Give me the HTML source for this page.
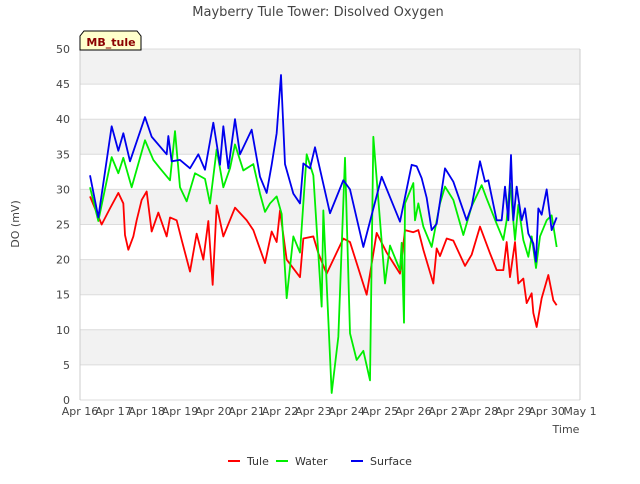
<!DOCTYPE html>
<html><head><meta charset="utf-8"><style>
body{margin:0;background:#fff;font-family:"DejaVu Sans","Liberation Sans",sans-serif;}
svg text{font-family:"DejaVu Sans","Liberation Sans",sans-serif;}
</style></head><body>
<svg id="chart" width="640" height="480">
<text x="318" y="16" text-anchor="middle" font-size="13" fill="#444">Mayberry Tule Tower: Disolved Oxygen</text>
<g id="bands"></g>
<g id="grid"></g>
<g id="axes"></g>
<g id="series"></g>
<g>
<path d="M80,50 L80,36 L84,31 L137,31 L141,36 L141,50 Z" fill="#ffffcc" stroke="#000" stroke-width="1"/>
<text x="111" y="46" text-anchor="middle" font-size="11" font-weight="bold" fill="#8b0000">MB_tule</text>
</g>
<text x="19" y="224" transform="rotate(-90 19 224)" text-anchor="middle" font-size="11" fill="#444">DO (mV)</text>
<text x="566" y="433" text-anchor="middle" font-size="11" fill="#444">Time</text>
<g id="legend"></g>
</svg>
<script>
const xTickLabels=["Apr 16","Apr 17","Apr 18","Apr 19","Apr 20","Apr 21","Apr 22","Apr 23","Apr 24","Apr 25","Apr 26","Apr 27","Apr 28","Apr 29","Apr 30","May 1"];
const yTicks=[0,5,10,15,20,25,30,35,40,45,50];
const seriesNames=["Tule","Water","Surface"];
const seriesColors=["#ff0000","#00ee00","#0000ee"];
const tuleT=[0.3,0.65,0.9,1.15,1.3,1.35,1.45,1.6,1.7,1.85,2.0,2.15,2.35,2.6,2.7,2.9,3.05,3.3,3.5,3.7,3.85,3.98,4.1,4.3,4.65,5.0,5.2,5.55,5.75,5.9,6.0,6.2,6.6,6.7,7.0,7.15,7.4,7.9,8.1,8.6,8.9,9.2,9.6,9.75,10.0,10.15,10.3,10.45,10.6,10.7,10.8,11.0,11.2,11.55,11.75,12.0,12.3,12.5,12.7,12.8,12.9,13.05,13.15,13.3,13.4,13.55,13.6,13.7,13.85,14.05,14.2,14.3];
const tuleV=[29,25,27.3,29.5,28,23.5,21.4,23.3,25.6,28.5,29.7,24,26.7,23.3,26,25.6,22.8,18.3,23.7,20,25.5,16.4,27.7,23.3,27.4,25.6,24.2,19.5,24,22.5,27,20,17.5,23,23.3,20.9,18,23,22.5,15,23.8,21,18,24.2,23.9,24.2,21.4,19,16.6,21.6,20.5,23,22.7,19.1,20.7,24.7,20.9,18.5,18.5,22.5,17.5,22.5,16.6,17.3,13.8,15.2,12.4,10.4,14.5,17.8,14.2,13.5];
const waterT=[0.3,0.55,0.95,1.15,1.3,1.55,1.95,2.2,2.4,2.7,2.85,3.0,3.2,3.45,3.75,3.9,4.1,4.3,4.5,4.65,4.9,5.2,5.4,5.55,5.7,5.9,6.05,6.2,6.4,6.6,6.8,7.0,7.25,7.3,7.55,7.75,7.95,8.1,8.3,8.5,8.7,8.8,9.15,9.3,9.6,9.65,9.72,9.75,10.0,10.05,10.15,10.3,10.55,10.8,10.95,11.2,11.5,11.75,12.05,12.2,12.5,12.7,12.8,12.9,13.05,13.15,13.3,13.45,13.55,13.68,13.8,14.0,14.15,14.3];
const waterV=[30.3,25.5,34.6,32.3,34.5,30.3,37,34.2,33,31.3,38.3,30.3,28.3,32.3,31.5,28,35.7,30.3,33,36.4,32.7,33.6,29.4,26.8,28,29,26.5,14.5,23.3,21,35,32,13.3,27,1,9,34.5,9.5,5.7,7,2.8,37.5,16.6,22,18.5,22.4,11,28,30.9,25.6,28,24.7,21.8,28,30.4,28.5,23.5,27.6,30.6,28.7,25.1,22.8,25.6,30.9,22.8,27.8,22.8,20.4,23.3,18.8,23.3,25.6,26.3,21.8];
const surfT=[0.3,0.55,0.95,1.15,1.3,1.5,1.95,2.15,2.6,2.65,2.75,3.0,3.3,3.55,3.75,4.0,4.2,4.3,4.45,4.65,4.8,5.15,5.4,5.6,5.75,5.9,6.03,6.15,6.4,6.6,6.7,6.9,7.05,7.5,7.9,8.1,8.5,9.05,9.6,9.95,10.1,10.25,10.4,10.55,10.7,10.95,11.2,11.6,11.75,12.0,12.15,12.25,12.5,12.65,12.75,12.85,12.93,13.0,13.1,13.25,13.35,13.45,13.6,13.68,13.75,13.85,14.0,14.15,14.3];
const surfV=[32,26,39,35.5,38,34,40.3,37.5,35,37.6,34,34.2,33,35,32.8,39.5,33.5,39,33,40,35,38.5,31.8,29.5,33.5,38,46.3,33.6,29.4,28,33.7,33,36,26.6,31.3,30,21.8,31.8,25.4,33.5,33.3,31.6,28.8,24.2,25.1,33,31.1,25.6,27.6,34,31.1,31.3,25.6,25.6,30.4,25.6,34.9,25.6,30.4,25.6,27.3,23.7,22.3,19.7,27.3,26.4,30,24.2,26];
const NS="http://www.w3.org/2000/svg";
const L=80,R=580,T=49,B=400,xMax=15,yMax=50;
const xs=t=>L+t*(R-L)/xMax, ys=v=>B-v*(B-T)/yMax;
function mk(tag,attrs,parent){const e=document.createElementNS(NS,tag);for(const k in attrs)e.setAttribute(k,attrs[k]);document.getElementById(parent).appendChild(e);return e;}
for(let i=0;i<yTicks.length-1;i++){if((yTicks.length-2-i)%2===0){const r=mk('rect',{x:L,y:ys(yTicks[i+1]),width:R-L,height:ys(yTicks[i])-ys(yTicks[i+1]),fill:'#f2f2f2'},'bands');

}}
yTicks.forEach(v=>{const l=mk('line',{x1:L,x2:R,y1:ys(v),y2:ys(v),stroke:'#dcdcdc'},'grid');


const t=mk('text',{x:L-10,y:ys(v)+4,'text-anchor':'end','font-size':11,fill:'#444'},'axes');t.textContent=v;

});
mk('line',{x1:L,x2:L,y1:T,y2:B,stroke:'#ccc'},'grid');mk('line',{x1:R,x2:R,y1:T,y2:B,stroke:'#ccc'},'grid');
xTickLabels.forEach((s,i)=>{const t=mk('text',{x:xs(i),y:B+15,'text-anchor':'middle','font-size':11,fill:'#444'},'axes');t.textContent=s;

});
[[tuleT,tuleV],[waterT,waterV],[surfT,surfV]].forEach((d,k)=>{const p=mk('polyline',{points:d[0].map((t,i)=>xs(t)+','+ys(d[1][i])).join(' '),fill:'none',stroke:seriesColors[k],'stroke-width':1.8,'stroke-linejoin':'round'},'series');

});
const lx=[228,276,351];
seriesNames.forEach((n,k)=>{const g=mk('g',{},'legend');


const l=document.createElementNS(NS,'line');l.setAttribute('x1',lx[k]);l.setAttribute('x2',lx[k]+12);l.setAttribute('y1',461);l.setAttribute('y2',461);l.setAttribute('stroke',seriesColors[k]);l.setAttribute('stroke-width',2);g.appendChild(l);
const t=document.createElementNS(NS,'text');t.setAttribute('x',lx[k]+19);t.setAttribute('y',465);t.setAttribute('font-size',11);t.setAttribute('fill','#333');t.textContent=n;g.appendChild(t);});
</script>
</body></html>
